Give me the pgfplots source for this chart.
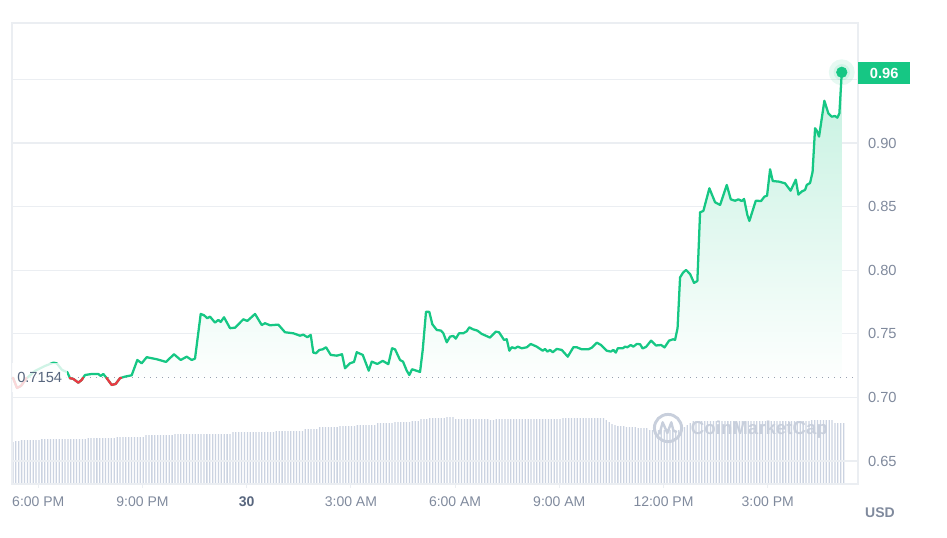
\documentclass[border=0pt]{standalone}
\usepackage{fontspec}
\setmainfont{Liberation Sans}
\usepackage{pgfplots}
\pgfplotsset{compat=1.18}
\definecolor{cmcgreen}{HTML}{16C784}
\definecolor{cmcred}{HTML}{EA3943}
\definecolor{tickgray}{HTML}{808A9D}
\definecolor{darkslate}{HTML}{58667E}
\definecolor{gridc}{HTML}{EBEEF2}
\definecolor{volc}{HTML}{CBD3E1}
\definecolor{wm}{HTML}{C8CFDC}
\newcommand{\tickfont}{\fontsize{10.5}{12}\selectfont}
\begin{document}
\begin{tikzpicture}
\path[use as bounding box] (0,0) rectangle (710.25pt,402.75pt);
% ---------------- volume bars ----------------
\begin{axis}[at={(9pt,39.75pt)}, anchor=south west, scale only axis,
  width=634.5pt, height=345.75pt,
  xmin=-0.324, xmax=291.96, ymin=0, ymax=461,
  axis lines=none, ybar, bar width=0.95pt]
\addplot[fill=volc, draw=none] table[row sep=\\, header=false, x expr=\coordindex, y index=0] {
42\\43\\43\\44\\44\\44\\44\\44\\44\\44\\
45\\45\\45\\45\\45\\45\\45\\45\\45\\45\\45\\45\\45\\45\\45\\45\\
46\\46\\46\\46\\46\\46\\46\\46\\46\\46\\
47\\47\\47\\47\\47\\47\\47\\47\\47\\47\\
49\\49\\49\\49\\49\\49\\49\\49\\49\\49\\
50\\50\\50\\50\\50\\50\\50\\50\\50\\50\\50\\50\\50\\50\\50\\50\\50\\50\\50\\50\\
52\\52\\52\\52\\52\\52\\52\\52\\52\\52\\52\\52\\52\\52\\52\\
53\\53\\53\\53\\53\\53\\53\\53\\53\\53\\
55\\55\\55\\55\\55\\
57\\57\\57\\57\\57\\57\\57\\
58\\58\\58\\58\\58\\58\\
59\\59\\59\\59\\59\\59\\59\\
61\\61\\61\\61\\61\\61\\
62\\62\\62\\62\\62\\62\\
63\\63\\63\\
65\\65\\65\\
66\\66\\66\\66\\66\\66\\
67\\67\\67\\
65\\65\\65\\65\\65\\65\\65\\65\\65\\65\\65\\65\\
64\\64\\
65\\65\\65\\65\\65\\65\\65\\65\\65\\65\\65\\65\\65\\65\\65\\65\\65\\65\\65\\65\\65\\65\\65\\
66\\66\\66\\66\\66\\66\\66\\66\\66\\66\\66\\66\\66\\66\\66\\
64\\62\\60\\59\\58\\58\\58\\57\\57\\57\\57\\56\\56\\56\\56\\
54\\54\\54\\54\\54\\54\\54\\54\\54\\54\\54\\
55\\57\\59\\61\\
63\\63\\63\\63\\63\\63\\63\\63\\63\\63\\63\\63\\63\\63\\63\\63\\63\\63\\63\\63\\
63\\63\\63\\63\\63\\63\\63\\63\\63\\63\\63\\63\\63\\63\\63\\63\\63\\63\\63\\63\\63\\
64\\64\\64\\64\\64\\64\\64\\64\\
61\\61\\61\\61\\
};
\end{axis}
% ---------------- watermark ----------------
\draw[wm, line width=2.2pt] (501pt,81.75pt) circle (10.2pt);
\draw[wm, line width=1.8pt, line join=round] (494.5pt,77pt) -- (497pt,86pt) -- (500.5pt,78pt) -- (503.5pt,86pt) -- (505pt,80pt) -- (507.5pt,78.5pt);
\node[anchor=west, inner sep=0pt, text=wm, font=\fontsize{14}{16}\selectfont\bfseries] at (518pt,80.25pt) {CoinMarketCap};
% ---------------- price ----------------
\begin{axis}[at={(9pt,39.75pt)}, anchor=south west, scale only axis,
  width=634.5pt, height=345.75pt,
  xmin=-0.757, xmax=23.60, ymin=0.6319, ymax=0.99434,
  clip mode=individual,
  axis line style={draw=gridc, line width=0.8pt},
  ymajorgrids, grid style={draw=gridc, line width=0.8pt},
  ytick={0.65,0.7,0.75,0.8,0.85,0.9},
  extra y ticks={0.95}, extra y tick labels={},
  extra y tick style={ymajorgrids, ytick style={draw=none}},
  yticklabel={\pgfmathprintnumber[fixed,fixed zerofill,precision=2,assume math mode=true]{\tick}},
  yticklabel pos=right, ytick pos=right,
  ytick style={draw=none},
  xtick={0,3,6,9,12,15,18,21},
  xticklabels={6:00 PM, 9:00 PM, {\bfseries\color{darkslate}30}, 3:00 AM, 6:00 AM, 9:00 AM, 12:00 PM, 3:00 PM},
  xtick pos=bottom, tick align=outside, major tick length=3pt,
  xtick style={draw=gridc, line width=0.8pt},
  xticklabel style={font=\tickfont, text=tickgray, yshift=-3pt},
  yticklabel style={font=\fontsize{11}{12}\selectfont, text=tickgray, xshift=1pt},
]
% area fill
\addplot[draw=none, top color=cmcgreen!25!white, bottom color=white, forget plot] coordinates {
(-0.728,0.7154)(-0.613,0.7074)(-0.498,0.7090)(-0.354,0.7145)(-0.095,0.7208)(0.193,0.7247)(0.432,0.7273)(0.530,0.7268)(0.682,0.7216)(0.835,0.7198)
(0.913,0.7151)(1.008,0.7145)(1.152,0.7116)(1.250,0.7137)(1.345,0.7176)(1.538,0.7184)(1.728,0.7184)(1.797,0.7169)(1.872,0.7184)(1.970,0.7151)
(2.113,0.7098)(2.229,0.7106)(2.352,0.7151)(2.496,0.7163)(2.689,0.7174)(2.851,0.7294)(2.977,0.7268)(3.121,0.7316)(3.409,0.7300)(3.677,0.7279)
(3.907,0.7339)(4.100,0.7294)(4.273,0.7320)(4.417,0.7294)(4.512,0.7305)(4.676,0.7656)(4.771,0.7646)(4.866,0.7622)(4.944,0.7635)(5.088,0.7588)
(5.183,0.7609)(5.252,0.7593)(5.347,0.7630)(5.520,0.7544)(5.664,0.7548)(5.903,0.7614)(6.018,0.7601)(6.240,0.7656)(6.433,0.7569)(6.528,0.7583)
(6.672,0.7567)(6.911,0.7572)(7.103,0.7512)(7.342,0.7504)(7.535,0.7485)(7.630,0.7493)(7.746,0.7473)(7.844,0.7491)(7.918,0.7352)(7.996,0.7347)
(8.091,0.7373)(8.189,0.7378)(8.284,0.7394)(8.420,0.7334)(8.592,0.7328)(8.745,0.7339)(8.831,0.7229)(8.975,0.7268)(9.090,0.7279)(9.168,0.7355)
(9.341,0.7334)(9.514,0.7210)(9.600,0.7281)(9.761,0.7263)(9.917,0.7287)(10.078,0.7261)(10.185,0.7386)(10.271,0.7378)(10.415,0.7294)(10.501,0.7281)
(10.608,0.7210)(10.683,0.7176)(10.760,0.7221)(10.991,0.7200)(11.068,0.7373)(11.163,0.7674)(11.258,0.7672)(11.345,0.7575)(11.472,0.7530)(11.595,0.7525)
(11.662,0.7504)(11.760,0.7433)(11.855,0.7478)(11.950,0.7483)(12.019,0.7462)(12.114,0.7504)(12.237,0.7504)(12.335,0.7520)(12.410,0.7551)(12.508,0.7536)
(12.641,0.7525)(12.767,0.7499)(13.006,0.7470)(13.170,0.7517)(13.265,0.7512)(13.409,0.7452)(13.487,0.7457)(13.562,0.7367)(13.631,0.7394)(13.726,0.7386)
(13.804,0.7399)(13.919,0.7386)(14.063,0.7394)(14.178,0.7420)(14.351,0.7399)(14.524,0.7367)(14.590,0.7381)(14.656,0.7360)(14.734,0.7373)(14.812,0.7355)
(14.927,0.7381)(15.071,0.7373)(15.244,0.7320)(15.405,0.7394)(15.503,0.7394)(15.647,0.7378)(15.837,0.7378)(15.935,0.7391)(16.079,0.7430)(16.203,0.7412)
(16.367,0.7367)(16.482,0.7360)(16.557,0.7373)(16.626,0.7352)(16.683,0.7386)(16.827,0.7386)(16.894,0.7399)(16.960,0.7394)(17.058,0.7412)(17.133,0.7399)
(17.230,0.7420)(17.326,0.7418)(17.398,0.7385)(17.498,0.7397)(17.642,0.7446)(17.786,0.7408)(17.930,0.7412)(18.031,0.7393)(18.160,0.7446)(18.276,0.7457)
(18.333,0.7452)(18.405,0.7544)(18.477,0.7943)(18.563,0.7981)(18.650,0.8002)(18.765,0.7970)(18.880,0.7900)(18.975,0.7915)(19.053,0.8455)(19.148,0.8466)
(19.321,0.8644)(19.485,0.8534)(19.629,0.8513)(19.822,0.8670)(19.937,0.8557)(20.061,0.8546)(20.156,0.8557)(20.254,0.8544)(20.320,0.8560)(20.415,0.8434)
(20.473,0.8387)(20.657,0.8546)(20.810,0.8544)(20.904,0.8578)(20.982,0.8586)(21.069,0.8793)(21.146,0.8701)(21.328,0.8696)(21.500,0.8683)(21.659,0.8625)
(21.809,0.8712)(21.884,0.8594)(21.981,0.8619)(22.076,0.8631)(22.125,0.8670)(22.220,0.8686)(22.292,0.8772)(22.364,0.9116)(22.413,0.9097)(22.479,0.9050)
(22.632,0.9332)(22.747,0.9233)(22.845,0.9207)(22.940,0.9212)(23.006,0.9199)(23.064,0.9233)(23.133,0.9556)
(23.133,0.7154)(-0.728,0.7154)} -- cycle;
% baseline
\addplot[draw=tickgray!80, line width=1pt, dash pattern=on 0.9pt off 3.6pt, forget plot] coordinates {(-0.757,0.7154)(23.60,0.7154)};
% price line
\addplot[cmcgreen, line width=1.7pt, line join=round, line cap=round] coordinates {
(-0.728,0.7154)(-0.613,0.7074)(-0.498,0.7090)(-0.354,0.7145)(-0.095,0.7208)(0.193,0.7247)(0.432,0.7273)(0.530,0.7268)(0.682,0.7216)(0.835,0.7198)
(0.913,0.7151)(1.008,0.7145)(1.152,0.7116)(1.250,0.7137)(1.345,0.7176)(1.538,0.7184)(1.728,0.7184)(1.797,0.7169)(1.872,0.7184)(1.970,0.7151)
(2.113,0.7098)(2.229,0.7106)(2.352,0.7151)(2.496,0.7163)(2.689,0.7174)(2.851,0.7294)(2.977,0.7268)(3.121,0.7316)(3.409,0.7300)(3.677,0.7279)
(3.907,0.7339)(4.100,0.7294)(4.273,0.7320)(4.417,0.7294)(4.512,0.7305)(4.676,0.7656)(4.771,0.7646)(4.866,0.7622)(4.944,0.7635)(5.088,0.7588)
(5.183,0.7609)(5.252,0.7593)(5.347,0.7630)(5.520,0.7544)(5.664,0.7548)(5.903,0.7614)(6.018,0.7601)(6.240,0.7656)(6.433,0.7569)(6.528,0.7583)
(6.672,0.7567)(6.911,0.7572)(7.103,0.7512)(7.342,0.7504)(7.535,0.7485)(7.630,0.7493)(7.746,0.7473)(7.844,0.7491)(7.918,0.7352)(7.996,0.7347)
(8.091,0.7373)(8.189,0.7378)(8.284,0.7394)(8.420,0.7334)(8.592,0.7328)(8.745,0.7339)(8.831,0.7229)(8.975,0.7268)(9.090,0.7279)(9.168,0.7355)
(9.341,0.7334)(9.514,0.7210)(9.600,0.7281)(9.761,0.7263)(9.917,0.7287)(10.078,0.7261)(10.185,0.7386)(10.271,0.7378)(10.415,0.7294)(10.501,0.7281)
(10.608,0.7210)(10.683,0.7176)(10.760,0.7221)(10.991,0.7200)(11.068,0.7373)(11.163,0.7674)(11.258,0.7672)(11.345,0.7575)(11.472,0.7530)(11.595,0.7525)
(11.662,0.7504)(11.760,0.7433)(11.855,0.7478)(11.950,0.7483)(12.019,0.7462)(12.114,0.7504)(12.237,0.7504)(12.335,0.7520)(12.410,0.7551)(12.508,0.7536)
(12.641,0.7525)(12.767,0.7499)(13.006,0.7470)(13.170,0.7517)(13.265,0.7512)(13.409,0.7452)(13.487,0.7457)(13.562,0.7367)(13.631,0.7394)(13.726,0.7386)
(13.804,0.7399)(13.919,0.7386)(14.063,0.7394)(14.178,0.7420)(14.351,0.7399)(14.524,0.7367)(14.590,0.7381)(14.656,0.7360)(14.734,0.7373)(14.812,0.7355)
(14.927,0.7381)(15.071,0.7373)(15.244,0.7320)(15.405,0.7394)(15.503,0.7394)(15.647,0.7378)(15.837,0.7378)(15.935,0.7391)(16.079,0.7430)(16.203,0.7412)
(16.367,0.7367)(16.482,0.7360)(16.557,0.7373)(16.626,0.7352)(16.683,0.7386)(16.827,0.7386)(16.894,0.7399)(16.960,0.7394)(17.058,0.7412)(17.133,0.7399)
(17.230,0.7420)(17.326,0.7418)(17.398,0.7385)(17.498,0.7397)(17.642,0.7446)(17.786,0.7408)(17.930,0.7412)(18.031,0.7393)(18.160,0.7446)(18.276,0.7457)
(18.333,0.7452)(18.405,0.7544)(18.477,0.7943)(18.563,0.7981)(18.650,0.8002)(18.765,0.7970)(18.880,0.7900)(18.975,0.7915)(19.053,0.8455)(19.148,0.8466)
(19.321,0.8644)(19.485,0.8534)(19.629,0.8513)(19.822,0.8670)(19.937,0.8557)(20.061,0.8546)(20.156,0.8557)(20.254,0.8544)(20.320,0.8560)(20.415,0.8434)
(20.473,0.8387)(20.657,0.8546)(20.810,0.8544)(20.904,0.8578)(20.982,0.8586)(21.069,0.8793)(21.146,0.8701)(21.328,0.8696)(21.500,0.8683)(21.659,0.8625)
(21.809,0.8712)(21.884,0.8594)(21.981,0.8619)(22.076,0.8631)(22.125,0.8670)(22.220,0.8686)(22.292,0.8772)(22.364,0.9116)(22.413,0.9097)(22.479,0.9050)
(22.632,0.9332)(22.747,0.9233)(22.845,0.9207)(22.940,0.9212)(23.006,0.9199)(23.064,0.9233)(23.133,0.9556)};
% below-baseline segments
\addplot[cmcred, line width=1.7pt, line join=round, line cap=round] coordinates {(-0.728,0.7154)(-0.613,0.7074)(-0.498,0.7090)(-0.354,0.7145)(-0.340,0.7154)};
\addplot[cmcred, line width=1.7pt, line join=round, line cap=round] coordinates {(0.908,0.7154)(0.913,0.7151)(1.008,0.7145)(1.152,0.7116)(1.250,0.7137)(1.288,0.7154)};
\addplot[cmcred, line width=1.7pt, line join=round, line cap=round] coordinates {(1.961,0.7154)(1.970,0.7151)(2.113,0.7098)(2.229,0.7106)(2.352,0.7151)(2.388,0.7154)};
% end point
\addplot[cmcgreen, only marks, mark=*, mark size=9.75pt, draw opacity=0, fill opacity=0.10, mark options={draw=none, fill=cmcgreen}] coordinates {(23.133,0.9556)};
\addplot[cmcgreen, only marks, mark=*, mark size=6.2pt, draw opacity=0, fill opacity=0.10, mark options={draw=none, fill=cmcgreen}] coordinates {(23.133,0.9556)};
\addplot[cmcgreen, only marks, mark=*, mark size=4pt, mark options={draw=none, fill=cmcgreen}] coordinates {(23.133,0.9556)};
% labels
\node[anchor=west, fill=white, fill opacity=0.8, text opacity=1, text=darkslate, inner xsep=3.75pt, inner ysep=7pt, font=\fontsize{11}{12}\selectfont] at (axis cs:-0.757,0.7154) {0.7154};
\node[anchor=west, fill=cmcgreen, text=white, minimum width=39pt, minimum height=16.5pt, inner sep=0pt, font=\fontsize{11}{12}\selectfont\bfseries] at (axis cs:23.60,0.9550) {0.96};
\end{axis}
\node[text=tickgray, font=\tickfont\bfseries, inner sep=0pt] at (660pt,18pt) {USD};
\end{tikzpicture}
\end{document}
